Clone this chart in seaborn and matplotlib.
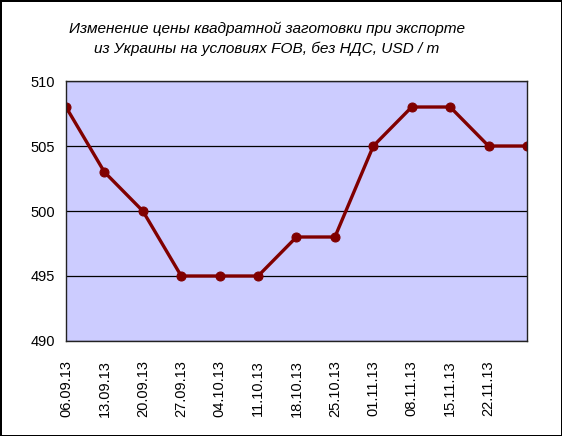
import numpy as np
import pandas as pd
import matplotlib
matplotlib.use("Agg")
import matplotlib.pyplot as plt
import seaborn as sns

# Данные графика
dates = ["06.09.13", "13.09.13", "20.09.13", "27.09.13", "04.10.13", "11.10.13",
         "18.10.13", "25.10.13", "01.11.13", "08.11.13", "15.11.13", "22.11.13",
         "29.11.13"]
prices = [508, 503, 500, 495, 495, 495, 498, 498, 505, 508, 508, 505, 505]
title = ("Изменение цены квадратной заготовки при экспорте\n"
         "из Украины на условиях FOB, без НДС, USD / т")

sns.set_style("white")
plt.rcParams["font.family"] = ["Liberation Sans", "DejaVu Sans"]
plt.rcParams["text.color"] = "black"
plt.rcParams["xtick.color"] = "black"
plt.rcParams["ytick.color"] = "black"

df = pd.DataFrame({"idx": np.arange(len(dates)), "price": prices})

fig = plt.figure(figsize=(5.62, 4.36), dpi=100, edgecolor="black", linewidth=2)
ax = fig.add_axes([0.1174, 0.2179, 0.8203, 0.5963])
ax.set_facecolor("#CCCCFF")

sns.lineplot(data=df, x="idx", y="price", ax=ax, color="#800000",
             linewidth=2.4, marker="o", markersize=6.5, markeredgecolor="#800000")

ax.set_xlim(0, len(dates) - 1)
ax.set_ylim(490, 510)
ax.set_yticks([490, 495, 500, 505, 510])
ax.set_xticks(np.arange(len(dates) - 1))
ax.set_xticklabels(dates[:-1], rotation=90, fontsize=10.5)
ax.tick_params(axis="y", labelsize=10.5, length=0, pad=8)
ax.tick_params(axis="x", length=0, pad=14)
ax.set_xlabel("")
ax.set_ylabel("")
ax.grid(axis="y", color="black", linewidth=0.9)
for s in ax.spines.values():
    s.set_color("#222222")
    s.set_linewidth(1.0)

fig.text(0.475, 0.912, title, ha="center", va="center", fontsize=11.1,
         style="italic", linespacing=1.5, color="black")

fig.savefig("out.png", dpi=100)
